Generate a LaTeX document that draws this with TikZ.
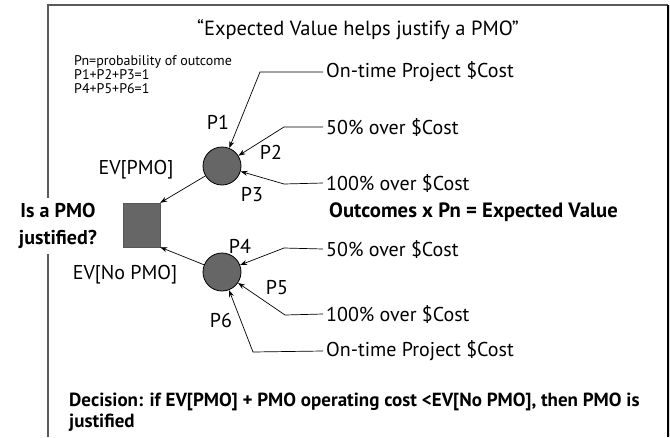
\documentclass[tikz,border=0pt]{standalone}
\usepackage{fontspec}
\setmainfont{PT Sans}
\usetikzlibrary{arrows.meta,positioning}

\definecolor{nodegray}{HTML}{666666}
\definecolor{framegray}{HTML}{5A5A5A}

\tikzset{
  chance/.style={circle, draw=black, line width=0.8pt, fill=nodegray, minimum size=38pt, inner sep=0pt},
  choice/.style={rectangle, fill=nodegray, draw=nodegray!85!black, minimum width=37pt, minimum height=44pt, inner sep=0pt},
  outcome/.style={anchor=west, font=\fontsize{20}{24}\selectfont, inner sep=3pt},
  plabel/.style={font=\fontsize{20}{24}\selectfont, inner sep=1pt},
  feed/.style={-{Stealth[length=7pt,width=5pt]}, line width=0.7pt},
}

\begin{document}
\begin{tikzpicture}[x=1pt,y=-1pt]
    % Picture size
    \useasboundingbox (0,0) rectangle (670,437);

    % Frame of the slide
    \draw[framegray, line width=1.2pt] (48,437) -- (48,5) -- (668,5);
    \draw[black!15, line width=2pt] (670,5) -- (670,437);
    \draw[black, line width=1.6pt] (668,5) -- (668,437);

    % Title and notes
    \node (title) at (358,30) {\fontsize{20.5}{24}\selectfont “Expected Value helps justify a PMO”};
    \node[anchor=north west, align=left, inner sep=0pt, font=\fontsize{14}{14}\selectfont] (notes) at (74,55)
        {Pn=probability of outcome\\P1+P2+P3=1\\P4+P5+P6=1};

    % Decision node and chance nodes
    \node[fill=white, align=center, inner sep=5pt, font=\bfseries\fontsize{20}{27}\selectfont] (question) at (58,226) {Is a PMO\\justified?};
    \node[choice] (dec) at (141.5,225) {};
    \node[chance] (pmo) at (222,166) {};
    \node[chance] (nopmo) at (222,272) {};

    % Branches into the decision
    \draw[feed] (pmo) -- (dec.north east);
    \draw[feed] (nopmo) -- (dec.south east);
    \node[plabel] (evpmo) at (136,170) {EV[PMO]};
    \node[plabel] (evnopmo) at (125,275) {EV[No PMO]};

    % Outcomes with PMO
    \node[outcome] (o1) at (323,72) {On-time Project \$Cost};
    \node[outcome] (o2) at (323,127) {50\% over \$Cost};
    \node[outcome] (o3) at (323,183) {100\% over \$Cost};
    \draw[feed] (o1.west) -- (260,72) -- (pmo);
    \draw[feed] (o2.west) -- (284,127) -- (pmo);
    \draw[feed] (o3.west) -- (284,184) -- (pmo);

    % Outcomes without PMO
    \node[outcome] (o4) at (323,249) {50\% over \$Cost};
    \node[outcome] (o5) at (323,314) {100\% over \$Cost};
    \node[outcome] (o6) at (323,351) {On-time Project \$Cost};
    \draw[feed] (o4.west) -- (284,248) -- (nopmo);
    \draw[feed] (o5.west) -- (285,315) -- (nopmo);
    \draw[feed] (o6.west) -- (253,352) -- (nopmo);

    % Probabilities
    \node[plabel] (p1) at (218,122) {P1};
    \node[plabel] (p2) at (271,152) {P2};
    \node[plabel] (p3) at (252,195) {P3};
    \node[plabel] (p4) at (240,246) {P4};
    \node[plabel] (p5) at (277,288) {P5};
    \node[plabel] (p6) at (221,320) {P6};

    % Result and decision rule
    \node[anchor=west, inner sep=0pt, font=\bfseries\fontsize{20.7}{24}\selectfont] (ev) at (329,212) {Outcomes x Pn = Expected Value};
    \node[anchor=west, align=left, inner sep=0pt, font=\bfseries\fontsize{19}{21}\selectfont] (rule) at (69,412)
        {Decision: if EV[PMO] + PMO operating cost <EV[No PMO], then PMO is\\justified};
\end{tikzpicture}
\end{document}
